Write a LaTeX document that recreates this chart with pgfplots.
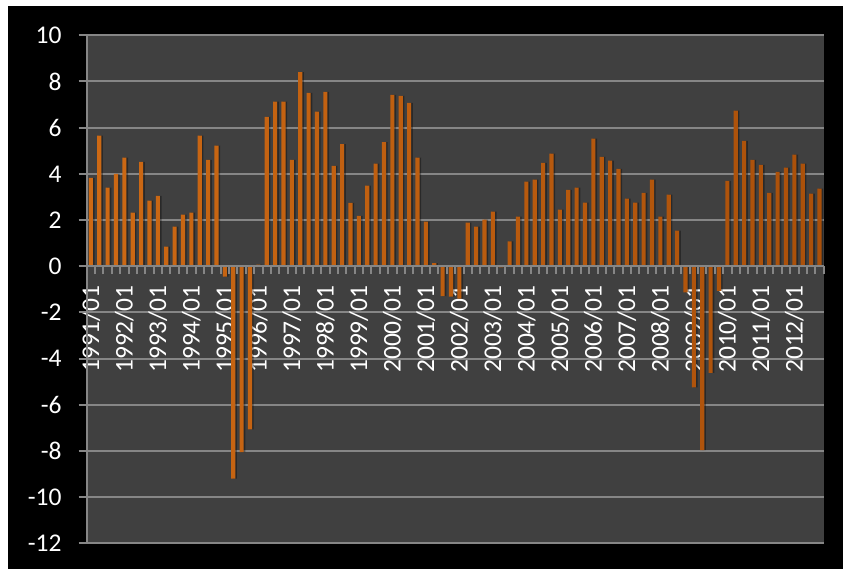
\documentclass[border=0pt]{standalone}
\usepackage{pgfplots}
\pgfplotsset{compat=1.18}
\usepackage{pgfplotstable}
\usepackage{fontspec}
\setmainfont{Carlito}

\definecolor{plotbg}{RGB}{64,64,64}
\definecolor{gridgray}{RGB}{134,134,134}
\definecolor{barL}{RGB}{205,105,20}
\definecolor{barM}{RGB}{245,160,70}
\definecolor{barR}{RGB}{170,80,10}

% bars over the tick labels, axis lines over the bars
\pgfdeclarelayer{frame}
\pgfplotsset{
 layers/barsontop/.define layer set={frame,axis background,axis grid,axis tick labels,pre main,main,axis ticks,axis lines,axis descriptions,axis foreground}{/pgfplots/layers/standard},
 set layers=barsontop,
}

% quarterly values, 1991/01 .. 2012/04
\pgfplotstableread{
q v
1 3.83
2 5.65
3 3.40
4 4.00
5 4.70
6 2.32
7 4.52
8 2.84
9 3.05
10 0.85
11 1.71
12 2.23
13 2.32
14 5.65
15 4.61
16 5.22
17 -0.45
18 -9.20
19 -8.05
20 -7.07
21 0.07
22 6.47
23 7.13
24 7.13
25 4.60
26 8.41
27 7.51
28 6.69
29 7.55
30 4.35
31 5.29
32 2.74
33 2.18
34 3.49
35 4.44
36 5.37
37 7.42
38 7.38
39 7.07
40 4.70
41 1.93
42 0.13
43 -1.30
44 -1.32
45 -1.40
46 1.89
47 1.71
48 2.02
49 2.36
50 -0.05
51 1.07
52 2.15
53 3.66
54 3.75
55 4.48
56 4.87
57 2.45
58 3.31
59 3.40
60 2.75
61 5.52
62 4.74
63 4.57
64 4.22
65 2.93
66 2.75
67 3.18
68 3.75
69 2.15
70 3.10
71 1.54
72 -1.13
73 -5.25
74 -7.96
75 -4.62
76 -1.07
77 3.70
78 6.74
79 5.43
80 4.61
81 4.39
82 3.18
83 4.09
84 4.27
85 4.83
86 4.44
87 3.14
88 3.36
}\quarters

\begin{document}
\begin{tikzpicture}
\begin{axis}[
 at={(0,0)}, anchor=south west,
 scale only axis, width=737pt, height=508pt,
 xmin=0.5, xmax=88.5, ymin=-12, ymax=10,
 clip mode=individual,
 axis y line*=left, axis x line*=middle,
 axis background/.style={fill=plotbg},
 axis line style={gridgray, line width=2pt},
 ymajorgrids, grid style={gridgray, line width=2pt},
 tick style={gridgray, line width=2pt},
 tick align=outside, major tick length=8pt,
 ytick={-12,-10,...,10},
 xtick={0.5,1.5,...,88.5}, xticklabels={},
 extra x ticks={1,5,...,85},
 extra x tick labels={1991/01,1992/01,1993/01,1994/01,1995/01,1996/01,1997/01,1998/01,1999/01,2000/01,2001/01,2002/01,2003/01,2004/01,2005/01,2006/01,2007/01,2008/01,2009/01,2010/01,2011/01,2012/01},
 extra x tick style={major tick length=0pt},
 xticklabel style={rotate=90, anchor=east, inner sep=0pt},
 xticklabel shift=19pt,
 yticklabel style={anchor=east, inner sep=0pt, xshift=-17pt},
 ticklabel style={white, font=\fontsize{25.5}{28}\selectfont},
 /pgf/number format/assume math mode=true,
 hide obscured x ticks=false, hide obscured y ticks=false,
 ybar, bar width=4.2pt,
]
% page frame: white margin, black chart area
\begin{pgfonlayer}{frame}
\fill[white] (rel axis cs:0,0) ++(-86.7pt,-25.7pt) rectangle ++(843pt,569pt);
\fill[black] (rel axis cs:0,0) ++(-78.7pt,-25.7pt) rectangle ++(835pt,563pt);
\end{pgfonlayer}
\addplot[draw=none, fill=black, opacity=0.35, bar shift=1.6pt] table[x=q, y=v] {\quarters};
\addplot[draw=none, left color=barL, middle color=barM, right color=barR, bar shift=0pt] table[x=q, y=v] {\quarters};
\end{axis}
\end{tikzpicture}
\end{document}
